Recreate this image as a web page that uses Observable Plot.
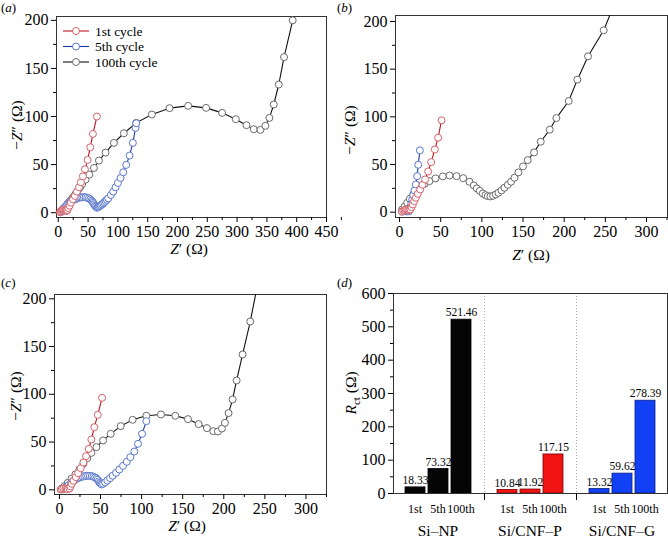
<!DOCTYPE html>
<html><head><meta charset="utf-8">
<script src="https://cdn.jsdelivr.net/npm/d3@7"></script>
<script src="https://cdn.jsdelivr.net/npm/@observablehq/plot@0.6"></script>
<style>
body{margin:0;background:#fff;}
#wrap{position:relative;width:668px;height:540px;overflow:hidden;background:#fff;}
.panel{position:absolute;}
.panel svg{overflow:visible;}
</style></head><body>
<div id="wrap">
<div class="panel" id="pa" style="left:0;top:0"></div>
<div class="panel" id="pb" style="left:334px;top:0"></div>
<div class="panel" id="pc" style="left:0;top:270px"></div>
<div class="panel" id="pd" style="left:334px;top:270px"></div>
</div>
<script>
// ---------- data: Nyquist plots, [Z', -Z''] in ohm ----------
const legendLabels = ["1st cycle", "5th cycle", "100th cycle"];

const a_1st = [[3,0.5],[4,1.5],[5.5,2.3],[7,2.8],[8.5,3],[10,2.8],[11.5,2.3],[13,1.8],[14.2,2],[15.1,2.8],[16.8,4.9],[19,7.3],[21.2,10.4],[24.6,13.9],[27.9,17.4],[31.3,21.9],[34.6,26.4],[38,31.6],[41.3,37.8],[44.7,45.1],[49.2,54.9],[53.6,68],[58.1,81.9],[64.8,100]];
const a_5th = [[4,0.5],[5.5,1.8],[6.7,2.8],[8.5,4.3],[11.2,5.6],[13,7],[15.1,8.3],[17,9.6],[19,10.8],[21,11.8],[23.5,12.5],[26,13.4],[29,14.2],[32,15],[34.6,15.6],[37.5,15.9],[40.2,16],[43,16.1],[45.8,16],[48.5,15.6],[51.4,14.9],[53.8,13.8],[55.9,12.5],[57.5,11.2],[58.7,10.1],[60,8.8],[61.5,7.3],[63,6.2],[64.8,5.2],[66.2,5.5],[67.6,6.2],[69.5,6.8],[71.5,7.6],[73.5,8.6],[75.4,9.7],[77.3,10.9],[79.3,12.2],[81.5,13.5],[83.8,14.9],[88.3,18.4],[92.2,21.9],[96.1,26.4],[100,30.9],[104.5,36.1],[108.9,42],[114,49.7],[119.6,59.4],[125.1,72.6],[129.7,88.2],[130.7,93]];
const a_100th = [[5,0.8],[7,2.5],[9.5,4.5],[12.3,6.6],[15,8.7],[17.9,10.8],[20.7,12.9],[23.5,14.9],[26.3,17.1],[29,19.4],[31.8,22],[34.6,24.7],[37.4,27.3],[40.2,29.9],[45.8,34.4],[52,39.6],[59.8,46.5],[68.2,54.2],[79.3,62.5],[93.3,72.6],[110,82.6],[130.7,93.4],[157,102.1],[186.6,108.7],[217.9,111.1],[248,109],[274.9,103.8],[297.8,97.2],[315.7,91],[328,86.8],[339.1,86.1],[347.5,90.3],[354.2,98.6],[361.5,112.5],[369.9,133.3],[378.8,161.8],[393.3,200],[405,235]];

const b_1st = [[3,0.5],[4.5,1.5],[6,2.3],[7.5,2.8],[9,2.9],[10.5,2.5],[12,2.2],[13.2,3],[14.6,5.3],[16.2,8.1],[17.8,11.6],[19.8,15.1],[22.2,19.3],[25.1,23.8],[27.9,28.7],[31.1,34.3],[34.8,42.7],[38.4,52.5],[42.9,65.8],[46.9,78.1],[51,96.3]];
const b_5th = [[3,0.5],[5,1],[7,1],[9,0.8],[11.3,0.9],[12.5,2.5],[13.3,5.3],[14.2,8.8],[15.4,13],[16.6,17.9],[18.2,22.8],[19.8,29.1],[21.4,37.8],[22.7,49.7],[24.7,64.8]];
const b_100th = [[3.2,2.8],[6.1,6],[9.3,9.8],[12.5,14],[16.6,18.6],[20.6,22.8],[25.5,27.3],[30.7,29.8],[36.4,32.6],[43.7,35.4],[52.6,37.5],[60.7,38.5],[69.2,37.8],[77.3,35.7],[84.9,31.9],[90.2,28],[93.8,24.9],[97.5,22.4],[101.1,19.6],[104.4,17.9],[107.2,16.8],[110.4,16.5],[113.7,17.2],[116.9,18.6],[120.1,20.3],[123.8,22.8],[127.4,25.6],[131.5,28.7],[135.5,31.9],[139.6,36.1],[144.4,41.7],[150,48],[155.7,54.6],[163.4,62.7],[171.5,73.9],[182.5,86.5],[190.5,98.7],[205.5,116.6],[216,139],[229,163.5],[248,190.8],[258,212]];

const c_1st = [[1.5,0.3],[3,0.8],[4.9,1.4],[7.3,1.4],[9,1],[10.1,0.7],[12.2,1.4],[13.4,3.5],[15,6.3],[17,9.4],[19.9,13.3],[22.7,17.5],[25.9,22.7],[29.2,28.6],[32.4,35.2],[35.7,42.9],[38.9,52.7],[42.5,65.6],[46.6,78.5],[51.9,96.3]];
const c_5th = [[3,0.5],[5.3,1],[8.1,2.8],[10.9,4.9],[14.2,7.3],[16,8.6],[17.8,9.8],[19.8,10.9],[21.9,11.9],[23.9,12.7],[25.9,13.3],[28.2,13.9],[30.4,14.3],[32.6,14.6],[34.8,14.7],[37,14.6],[39.3,14.3],[41.4,13.7],[43.4,12.9],[45.1,11.8],[46.6,10.5],[48,8.9],[49,7.3],[50.3,6.3],[51.5,5.6],[53.1,6.3],[55.5,7.7],[58.3,9.8],[61.6,12.2],[64.8,14.7],[68.9,17.8],[72.9,21.3],[77.4,25.1],[81.9,29.3],[86.3,34.2],[91.2,40.1],[95.6,48.2],[100.5,58.6],[105.8,71.9]];
const c_100th = [[2.8,1.4],[6.1,3.8],[10.1,7.3],[14.6,11.5],[19.4,16.1],[24.3,21.3],[29.2,27.2],[34,33.2],[38.9,38.7],[45,44.7],[53.1,51.7],[62.4,58.6],[74.6,66.7],[89.1,73.3],[105.8,77.5],[123.6,78.9],[141,77.5],[156.4,74],[169.4,68.8],[179.5,64.6],[187.2,61.4],[192.9,61.1],[197.7,64.2],[201.4,70.1],[205.8,80.3],[210.7,94.6],[215.6,114.5],[222.9,141.7],[232.2,176.2],[240,210]];

// ---------- data: Rct bar chart ----------
const groups = ["Si\u2013NP", "Si/CNF\u2013P", "Si/CNF\u2013G"];
const cycles = ["1st", "5th", "100th"];
const rctSiNP = [18.33, 73.32, 521.46];
const rctCNFP = [10.84, 11.92, 117.15];
const rctCNFG = [13.32, 59.62, 278.39];
const groupFill = ["#050505", "#f21313", "#1240f5"];
const groupEdge = ["#000000", "#7a0000", "#0a1f80"];

// ---------- styles ----------
const lineColors = ["#c0141c", "#1c3aa8", "#111111"];
const markerColors = ["#d4626a", "#5a78cc", "#6a6a6a"];
const FONT = "Liberation Serif";

function ticks(a, b, s) { return d3.range(a, b + 1e-9, s); }

function addText(svg, x, y, parts, {size = 15.5, rotate = false, anchor = "middle"} = {}) {
  const t = d3.select(svg).append("text")
    .attr("font-family", FONT).attr("font-size", size).attr("fill", "#000")
    .attr("text-anchor", anchor)
    .attr("transform", rotate ? `translate(${x},${y}) rotate(-90)` : `translate(${x},${y})`);
  for (const p of parts) {
    const s = t.append("tspan").text(p.t);
    if (p.i) s.attr("font-style", "italic");
    if (p.dy) s.attr("dy", p.dy);
    if (p.size) s.attr("font-size", p.size);
  }
}

function styleTickLabels(svg) {
  d3.select(svg).selectAll("g[aria-label='x-axis tick label'] text, g[aria-label='y-axis tick label'] text")
    .style("font-family", `"${FONT}", serif`).style("font-size", "16px").style("fill", "#000");
}

function nyquist({series, xDomain, yDomain, m, xMaxTick}) {
  const marks = [
    Plot.frame({stroke: "#333", strokeWidth: 1}),
    Plot.axisX(ticks(0, xMaxTick, 50), {tickSize: 5, label: null, tickPadding: 3}),
    Plot.axisX(ticks(25, xMaxTick + 25, 50), {tickSize: 3, label: null, tickFormat: () => ""}),
    Plot.axisY(ticks(0, 200, 50), {tickSize: 5, label: null, tickPadding: 3}),
    Plot.axisY(ticks(25, 175, 50), {tickSize: 3, label: null, tickFormat: () => ""})
  ];
  const order = [2, 1, 0];
  for (const k of order) {
    const d = series[k];
    marks.push(Plot.line(d, {x: p => p[0], y: p => p[1], stroke: lineColors[k], strokeWidth: 1.1, clip: true}));
    marks.push(Plot.dot(d, {x: p => p[0], y: p => p[1], r: 3.5, stroke: markerColors[k], fill: "white", strokeWidth: 1, clip: true}));
  }
  const svg = Plot.plot({
    width: 334, height: 270,
    marginLeft: m[0], marginRight: m[1], marginTop: m[2], marginBottom: m[3],
    x: {domain: xDomain}, y: {domain: yDomain},
    style: {fontFamily: FONT, fontSize: "16px", color: "#000", background: "transparent", overflow: "visible"},
    marks
  });
  styleTickLabels(svg);
  return svg;
}

// Panel (a)
const svgA = nyquist({series: [a_1st, a_5th, a_100th], xDomain: [-3, 450], yDomain: [-5, 204], m: [56, 8, 16, 53], xMaxTick: 450});
document.getElementById("pa").appendChild(svgA);
addText(svgA, 189, 254, [{t: "Z", i: true}, {t: "\u2032 (\u03A9)"}]);
addText(svgA, 22, 125, [{t: "\u2212"}, {t: "Z", i: true}, {t: "\u2033 (\u03A9)"}], {rotate: true});
addText(svgA, 1, 12, [{t: "("}, {t: "a", i: true}, {t: ")"}], {size: 13, anchor: "start"});
{
  const g = d3.select(svgA).append("g");
  const ys = [31, 46.5, 62];
  legendLabels.forEach((lab, k) => {
    g.append("line").attr("x1", 63).attr("x2", 89).attr("y1", ys[k]).attr("y2", ys[k]).attr("stroke", lineColors[k]).attr("stroke-width", 1.1);
    g.append("circle").attr("cx", 76).attr("cy", ys[k]).attr("r", 3.5).attr("fill", "white").attr("stroke", markerColors[k]);
    g.append("text").attr("x", 95).attr("y", ys[k] + 4.5).attr("text-anchor", "start")
      .attr("font-family", FONT).attr("font-size", 13.5).attr("fill", "#000").text(lab);
  });
}

// Panel (b)
const svgB = nyquist({series: [b_1st, b_5th, b_100th], xDomain: [-4.9, 325.5], yDomain: [-5.6, 206.3], m: [61, 1, 15, 53], xMaxTick: 300});
document.getElementById("pb").appendChild(svgB);
addText(svgB, 197, 260, [{t: "Z", i: true}, {t: "\u2032 (\u03A9)"}]);
addText(svgB, 21, 130, [{t: "\u2212"}, {t: "Z", i: true}, {t: "\u2033 (\u03A9)"}], {rotate: true});
addText(svgB, 3, 12, [{t: "("}, {t: "b", i: true}, {t: ")"}], {size: 13, anchor: "start"});

// Panel (c)
const svgC = nyquist({series: [c_1st, c_5th, c_100th], xDomain: [-6, 325], yDomain: [-4.9, 204.5], m: [54, 8, 24, 46], xMaxTick: 300});
document.getElementById("pc").appendChild(svgC);
addText(svgC, 187, 261, [{t: "Z", i: true}, {t: "\u2032 (\u03A9)"}]);
addText(svgC, 21, 126, [{t: "\u2212"}, {t: "Z", i: true}, {t: "\u2033 (\u03A9)"}], {rotate: true});
addText(svgC, 1, 17, [{t: "("}, {t: "c", i: true}, {t: ")"}], {size: 13, anchor: "start"});

// Panel (d)
{
  const values = [rctSiNP, rctCNFP, rctCNFG];
  const rows = [];
  const domain = [];
  const spacers = [];
  groups.forEach((g, gi) => {
    cycles.forEach((c, ci) => {
      const key = g + "|" + c;
      domain.push(key);
      rows.push({key, group: g, cycle: c, value: values[gi][ci], fill: groupFill[gi], edge: groupEdge[gi]});
    });
    if (gi < groups.length - 1) { const s = "gap" + gi; domain.push(s); spacers.push(s); }
  });
  const middles = groups.map(g => g + "|" + cycles[1]);
  const svgD = Plot.plot({
    width: 334, height: 270,
    marginLeft: 59, marginRight: 1, marginTop: 23, marginBottom: 47,
    x: {domain, paddingInner: 0.13, paddingOuter: 0.33},
    y: {domain: [0, 600]},
    color: {type: "identity"},
    style: {fontFamily: FONT, fontSize: "16px", color: "#000", background: "transparent", overflow: "visible"},
    marks: [
      Plot.ruleX(spacers, {x: d => d, stroke: "#999", strokeDasharray: "1,2", strokeWidth: 0.8}),
      Plot.barY(rows, {x: "key", y: "value", fill: "fill", stroke: "edge", strokeWidth: 0.8}),
      Plot.text(rows, {x: "key", y: "value", text: d => d.value.toFixed(2), dy: -7, fontSize: 11.5, fontFamily: FONT}),
      Plot.frame({stroke: "#333", strokeWidth: 1}),
      Plot.axisY(ticks(0, 600, 100), {tickSize: 5, label: null, tickPadding: 3}),
      Plot.axisY(ticks(50, 550, 100), {tickSize: 3, label: null, tickFormat: () => ""}),
      Plot.axisX(spacers, {tickSize: 7, label: null, tickFormat: () => ""})
    ]
  });
  styleTickLabels(svgD);
  const xs = svgD.scale("x");
  const bw = xs.bandwidth || 0;
  const yBase = 270 - 47;
  const gD = d3.select(svgD).append("g").attr("font-family", FONT).attr("fill", "#000").attr("text-anchor", "middle");
  rows.forEach(r => {
    gD.append("text").attr("x", xs.apply(r.key) + bw / 2).attr("y", yBase + 20).attr("font-size", 12).text(r.cycle);
  });
  middles.forEach((k, gi) => {
    gD.append("text").attr("x", xs.apply(k) + bw / 2).attr("y", yBase + 43).attr("font-size", 15.5).text(groups[gi]);
  });
  document.getElementById("pd").appendChild(svgD);
  addText(svgD, 22, 123, [{t: "R", i: true}, {t: "ct", dy: 4, size: 11}, {t: " (\u03A9)", dy: -4}], {rotate: true});
  addText(svgD, 3, 17, [{t: "("}, {t: "d", i: true}, {t: ")"}], {size: 13, anchor: "start"});
}
</script>
</body></html>
